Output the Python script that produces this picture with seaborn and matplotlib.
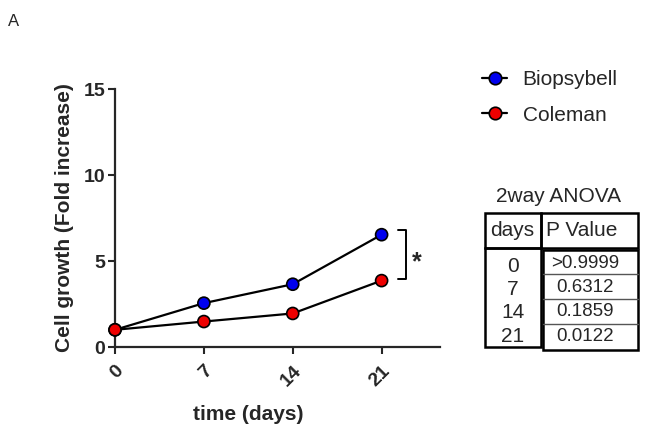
import pandas as pd
import matplotlib
matplotlib.use("Agg")
import matplotlib.pyplot as plt
import seaborn as sns
from matplotlib.lines import Line2D
from matplotlib.patches import Rectangle

# --- dados ---
dias = [0, 7, 14, 21]
biopsybell = [1.0, 2.55, 3.65, 6.53]
coleman = [1.0, 1.48, 1.95, 3.86]
linhagens = ["Biopsybell", "Coleman"]
cores = {"Biopsybell": "#0000ee", "Coleman": "#ee0000"}
tab_dias = ["0", "7", "14", "21"]
tab_p = [">0.9999", "0.6312", "0.1859", "0.0122"]

df = pd.DataFrame({
    "dia": dias * 2,
    "crescimento": biopsybell + coleman,
    "linha": [linhagens[0]] * len(dias) + [linhagens[1]] * len(dias),
})

sns.set_style("ticks")
plt.rcParams["font.family"] = ["Liberation Sans", "DejaVu Sans"]

W, H = 645, 430
fig = plt.figure(figsize=(W / 100, H / 100), dpi=100)
ax = fig.add_axes([115 / W, 1 - 347 / H, (440 - 115) / W, (347 - 89) / H])


def px(x, y):
    return x / W, 1 - y / H


# linhas pretas + marcadores coloridos
sns.lineplot(data=df, x="dia", y="crescimento", units="linha", estimator=None,
             color="black", linewidth=1.6, ax=ax, legend=False, zorder=2)
sns.scatterplot(data=df, x="dia", y="crescimento", hue="linha", palette=cores,
                s=75, edgecolor="black", linewidth=1.2, ax=ax, legend=False,
                zorder=3, clip_on=False)

ax.set_xlim(0, 25.6)
ax.set_ylim(0, 15)
ax.set_xticks(dias)
ax.set_yticks([0, 5, 10, 15])
ax.set_xticklabels([str(d) for d in dias], rotation=45, ha="right",
                   rotation_mode="anchor", fontweight="bold", fontsize=14)
ax.set_yticklabels(["0", "5", "10", "15"], fontweight="bold", fontsize=14)
ax.tick_params(axis="both", width=1.5, length=5, direction="out", pad=2)
ax.tick_params(axis="x", pad=6)
for s in ["left", "bottom"]:
    ax.spines[s].set_linewidth(1.6)
sns.despine(ax=ax)
ax.set_xlabel("time (days)", fontweight="bold", fontsize=15)
ax.set_ylabel("Cell growth (Fold increase)", fontweight="bold", fontsize=15)
ax.xaxis.set_label_coords((248 - 115) / 325, -(415 - 347) / 258)
ax.yaxis.set_label_coords(-(115 - 64) / 325, 0.5)
ax.xaxis.label.set_va("center")
ax.yaxis.label.set_va("center")

# colchete de significância no dia 21
topo = biopsybell[-1] + 0.27
base = coleman[-1] + 0.1
ax.plot([22.3, 22.95, 22.95, 22.3], [topo, topo, base, base], color="black",
        linewidth=1.4, clip_on=False)
ax.text(23.75, (topo + base) / 2 - 0.45, "*", fontsize=18, fontweight="bold",
        ha="center", va="center")

fig.text(*px(8, 22), "A", fontsize=12, ha="left", va="center")

# legenda
handles = [Line2D([], [], color="black", linewidth=1.6, marker="o", markersize=9,
                  markerfacecolor=cores[n], markeredgecolor="black",
                  markeredgewidth=1.2) for n in linhagens]
fig.legend(handles, linhagens, loc="upper left", bbox_to_anchor=px(482, 70),
           frameon=False, fontsize=15, handlelength=1.2, handletextpad=0.75,
           labelspacing=0.8, borderaxespad=0, borderpad=0)

# tabela 2way ANOVA
fig.text(*px(559, 197), "2way ANOVA", fontsize=15, ha="center", va="center")
lw = 1.8
fig.add_artist(Rectangle(px(485, 248), (541 - 485) / W, (248 - 213) / H,
                         fill=False, linewidth=lw, edgecolor="black"))
fig.add_artist(Rectangle(px(541, 248), (638 - 541) / W, (248 - 213) / H,
                         fill=False, linewidth=lw, edgecolor="black"))
fig.add_artist(Rectangle(px(485, 347), (541 - 485) / W, (347 - 248) / H,
                         fill=False, linewidth=lw, edgecolor="black"))
fig.add_artist(Rectangle(px(543, 350), (638 - 543) / W, (350 - 250) / H,
                         fill=False, linewidth=lw, edgecolor="black"))
for yl in [274, 299, 324]:
    x0, y0 = px(543, yl)
    x1, _ = px(638, yl)
    fig.add_artist(Line2D([x0, x1], [y0, y0], color="#555555", linewidth=1.0))
fig.text(*px(512, 231), "days", fontsize=15, ha="center", va="center")
fig.text(*px(546, 231), "P Value", fontsize=15, ha="left", va="center")
for i, (d, p) in enumerate(zip(tab_dias, tab_p)):
    fig.text(*px(513, 266 + i * 23.5), d, fontsize=15, ha="center", va="center")
    fig.text(*px(585, 263 + i * 24.5), p, fontsize=13.5, ha="center", va="center")

fig.savefig("out.png", dpi=100)
